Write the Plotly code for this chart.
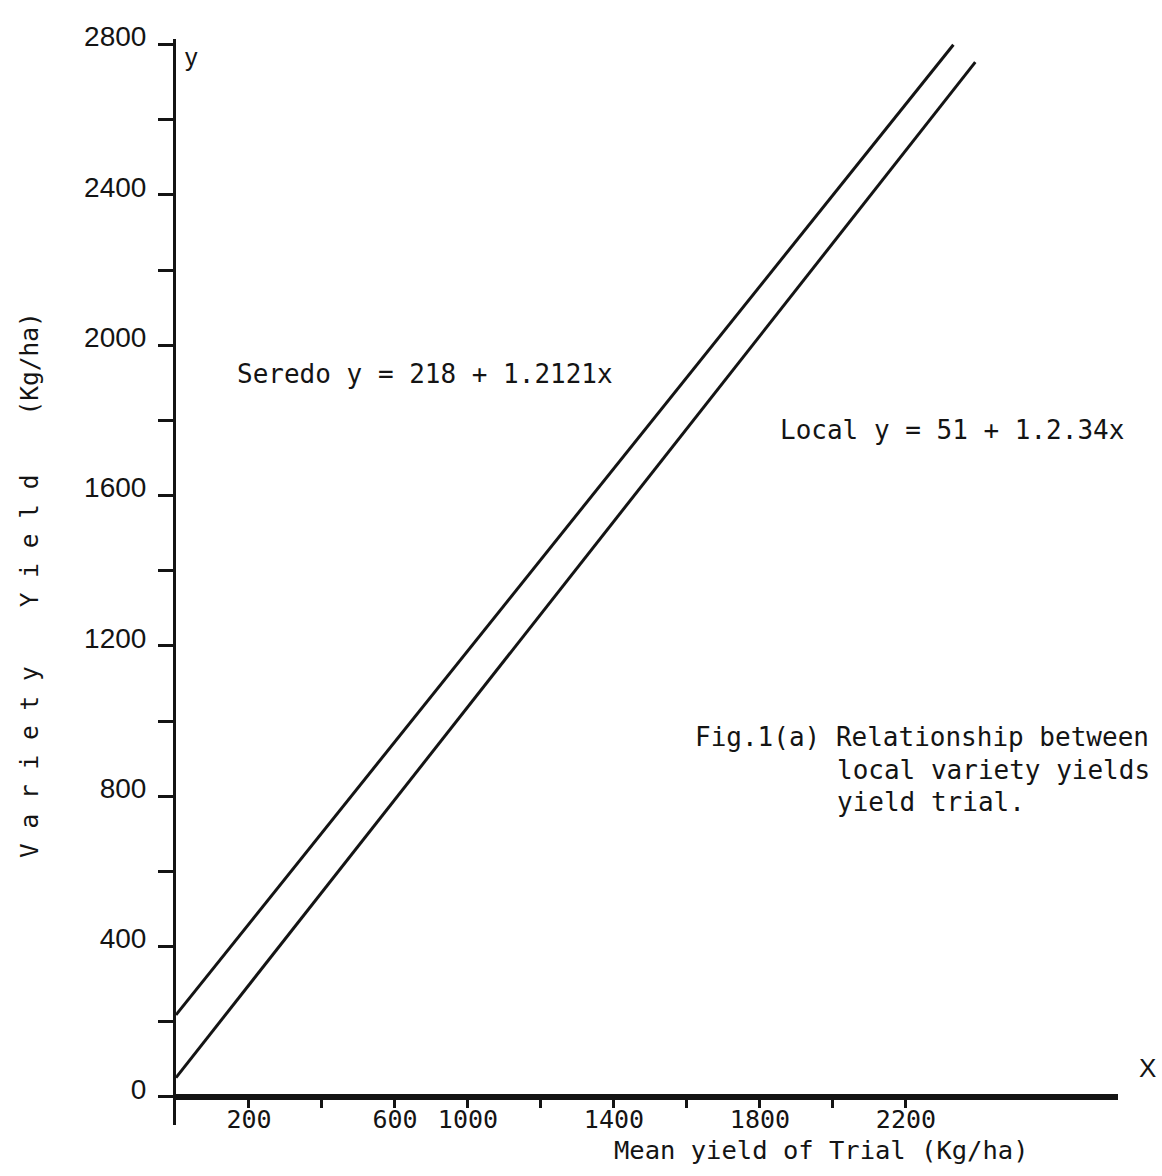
import plotly.graph_objects as go

# Regression lines: variety yield vs. mean yield of trial (Kg/ha)
seredo_intercept = 218
seredo_slope = 1.2121
local_intercept = 51
local_slope = 1.234

# Extent of each fitted line along the x axis
seredo_x = [0, 2130]
local_x = [0, 2190]

# Axis ticks and their printed labels
y_tickvals = [0, 200, 400, 600, 800, 1000, 1200, 1400, 1600, 1800, 2000, 2200, 2400, 2600, 2800]
y_ticktext = ["0", "", "400", "", "800", "", "1200", "", "1600", "", "2000", "", "2400", "", "2800"]
x_tickvals = [200, 400, 600, 800, 1000, 1200, 1400, 1600, 1800, 2000]
x_ticktext = ["200", "", "600", "1000", "", "1400", "", "1800", "", "2200"]

seredo_label = "Seredo y = 218 + 1.2121x"
local_label = "Local y = 51 + 1.2.34x"
caption_lines = ["Relationship between", "local variety yields", "yield trial."]

W, H = 1162, 1176
L, R, T, B = 176, 44, 39, 51
X_RANGE = [0, 2581]
Y_RANGE = [-75, 2815]

INK = "#141414"
MONO = "DejaVu Sans Mono"
SANS = "Liberation Sans"


def at(px, py):
    """Convert a page position in pixels to paper coordinates."""
    return (px - L) / (W - L - R), (H - B - py) / (H - T - B)


def line_y(a, b, xs):
    return [a + b * x for x in xs]


fig = go.Figure()
fig.add_trace(go.Scatter(
    x=seredo_x, y=line_y(seredo_intercept, seredo_slope, seredo_x),
    mode="lines", line=dict(color=INK, width=3), name="Seredo",
    showlegend=False, cliponaxis=False,
))
fig.add_trace(go.Scatter(
    x=local_x, y=line_y(local_intercept, local_slope, local_x),
    mode="lines", line=dict(color=INK, width=3), name="Local",
    showlegend=False, cliponaxis=False,
))

annotations = []


def text(px, py, s, size, family=MONO, xanchor="left", angle=0):
    xp, yp = at(px, py)
    annotations.append(dict(
        x=xp, y=yp, xref="paper", yref="paper", text=s, showarrow=False,
        xanchor=xanchor, yanchor="middle", textangle=angle,
        font=dict(family=family, size=size, color=INK),
    ))


text(235, 374, seredo_label, 26)
text(778, 430, local_label, 26)
text(693, 737, "Fig.1(a) " + caption_lines[0], 26)
text(835, 770, caption_lines[1], 26)
text(835, 802, caption_lines[2], 26)
text(821, 1150, "Mean yield of Trial (Kg/ha)", 25.5, xanchor="center")
y_title = "\u00a0".join("Variety") + "\u00a0" * 4 + "\u00a0".join("Yield") + "\u00a0" * 4 + "(Kg/ha)"
text(30, 585, y_title, 24.5, xanchor="center", angle=-90)
text(183, 57, "y", 25, family=SANS)
text(1147, 1068, "X", 26, family=SANS, xanchor="center")

x_axis_pos = (0 - Y_RANGE[0]) / (Y_RANGE[1] - Y_RANGE[0])

fig.update_layout(
    width=W, height=H,
    margin=dict(l=L, r=R, t=T, b=B),
    paper_bgcolor="white", plot_bgcolor="white",
    showlegend=False,
    annotations=annotations,
    xaxis=dict(
        range=X_RANGE, anchor="free", position=x_axis_pos, side="bottom",
        showgrid=False, zeroline=False,
        showline=True, linewidth=6, linecolor=INK,
        tickmode="array", tickvals=x_tickvals, ticktext=x_ticktext,
        ticks="outside", ticklen=8, tickwidth=2.5, tickcolor=INK,
        tickfont=dict(family=MONO, size=25, color=INK),
        ticklabelstandoff=-10,
    ),
    yaxis=dict(
        range=Y_RANGE, anchor="x",
        showgrid=False, zeroline=False,
        showline=True, linewidth=3, linecolor=INK,
        tickmode="array", tickvals=y_tickvals, ticktext=y_ticktext,
        ticks="outside", ticklen=15, tickwidth=2.5, tickcolor=INK,
        tickfont=dict(family=SANS, size=28, color=INK),
        ticklabelshift=-8, ticklabelstandoff=6,
    ),
)

fig.write_html("out.html")
